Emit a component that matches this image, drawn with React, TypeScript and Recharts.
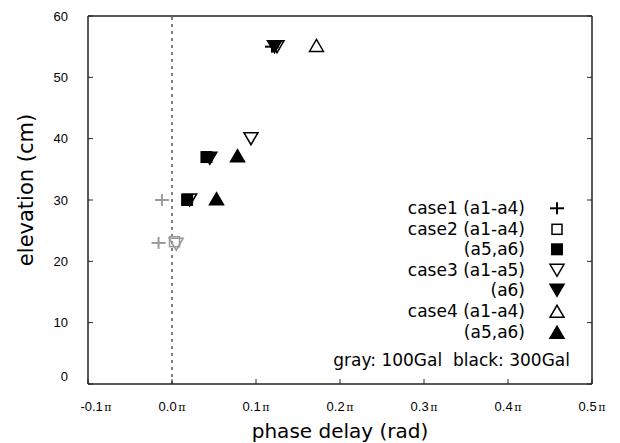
import React from "react";
import { ScatterChart, Scatter, XAxis, YAxis, ReferenceLine, Legend } from "recharts";

type Pt = { x: number; y: number; gal: number };

// x: phase delay in units of π, y: elevation (cm), gal: input level
const case1: Pt[] = [
  { x: -0.012, y: 30, gal: 100 },
  { x: -0.016, y: 23, gal: 100 },
  { x: 0.119, y: 55, gal: 300 },
];
const case2a: Pt[] = [
  { x: 0.003, y: 23.2, gal: 100 },
];
const case2b: Pt[] = [
  { x: 0.041, y: 37, gal: 300 },
  { x: 0.018, y: 30, gal: 300 },
];
const case3a: Pt[] = [
  { x: 0.125, y: 55, gal: 300 },
  { x: 0.094, y: 40, gal: 300 },
  { x: 0.021, y: 30, gal: 300 },
  { x: 0.005, y: 22.8, gal: 100 },
];
const case3b: Pt[] = [
  { x: 0.045, y: 36.8, gal: 300 },
  { x: 0.122, y: 55, gal: 300 },
];
const case4a: Pt[] = [
  { x: 0.172, y: 55.2, gal: 300 },
];
const case4b: Pt[] = [
  { x: 0.078, y: 37.2, gal: 300 },
  { x: 0.053, y: 30.2, gal: 300 },
];

const X_TICKS = [-0.1, 0, 0.1, 0.2, 0.3, 0.4, 0.5];
const Y_TICKS = [0, 10, 20, 30, 40, 50, 60];

const GAL_COLOR: Record<number, string> = { 100: "#9a9a9a", 300: "#000" };
const AXIS = "#222";
const FONT = "'Liberation Sans', Arial, sans-serif";
const TEXT_FONT = "'DejaVu Sans', sans-serif";

type Kind = "plus" | "square" | "squareFill" | "down" | "downFill" | "up" | "upFill";

const SERIES: { label: string; kind: Kind; data: Pt[] }[] = [
  { label: "case1 (a1-a4)", kind: "plus", data: case1 },
  { label: "case2 (a1-a4)", kind: "square", data: case2a },
  { label: "(a5,a6)", kind: "squareFill", data: case2b },
  { label: "case3 (a1-a5)", kind: "down", data: case3a },
  { label: "(a6)", kind: "downFill", data: case3b },
  { label: "case4 (a1-a4)", kind: "up", data: case4a },
  { label: "(a5,a6)", kind: "upFill", data: case4b },
];

function Mark({ kind, cx, cy, color }: { kind: Kind; cx: number; cy: number; color: string }) {
  const w = 7, h = 6;
  switch (kind) {
    case "plus":
      return (
        <g stroke={color} strokeWidth={2}>
          <line x1={cx - w} x2={cx + w} y1={cy} y2={cy} />
          <line x1={cx} x2={cx} y1={cy - h} y2={cy + h} />
        </g>
      );
    case "square":
      return <rect x={cx - 5} y={cy - 5} width={10} height={10} fill="none" stroke={color} strokeWidth={1.5} />;
    case "squareFill":
      return <rect x={cx - 6} y={cy - 6} width={12} height={12} fill={color} />;
    case "down":
    case "downFill":
      return (
        <polygon
          points={`${cx - w},${cy - h} ${cx + w},${cy - h} ${cx},${cy + h}`}
          fill={kind === "downFill" ? color : "none"}
          stroke={color}
          strokeWidth={1.5}
        />
      );
    default:
      return (
        <polygon
          points={`${cx - w},${cy + h} ${cx + w},${cy + h} ${cx},${cy - h}`}
          fill={kind === "upFill" ? color : "none"}
          stroke={color}
          strokeWidth={1.5}
        />
      );
  }
}

const X_MARGIN = 18;
const Y_MARGIN = 20;
const TICK = 5;

function BottomTick(props: any) {
  const { x, y, payload } = props;
  const axisY = y - X_MARGIN;
  const v = payload.value as number;
  return (
    <g>
      <line x1={x} x2={x} y1={axisY} y2={axisY - TICK} stroke={AXIS} />
      <text x={x + (v < 0 ? 8 : 0)} y={y} dy="0.71em" textAnchor="middle" fontSize={13} fontFamily={FONT} fill="#000">
        {v.toFixed(1)}
        <tspan dx={1.5} fontFamily="'DejaVu Serif', serif" fontSize={11}>π</tspan>
      </text>
    </g>
  );
}

function LeftTick(props: any) {
  const { x, y, payload } = props;
  const axisX = x + Y_MARGIN;
  return (
    <g>
      <line x1={axisX} x2={axisX + TICK} y1={y} y2={y} stroke={AXIS} />
      <text x={x} y={payload.value === 0 ? y - 8 : y} dy="0.35em" textAnchor="end" fontSize={13} fontFamily={FONT} fill="#000">
        {payload.value}
      </text>
    </g>
  );
}

function TopTick(props: any) {
  const { x, y } = props;
  return <line x1={x} x2={x} y1={y} y2={y + TICK} stroke={AXIS} />;
}

function RightTick(props: any) {
  const { x, y } = props;
  return <line x1={x} x2={x - TICK} y1={y} y2={y} stroke={AXIS} />;
}

const ROW = 20.6;

function LegendBox() {
  return (
    <div style={{ position: "relative", width: 620, height: 443, fontFamily: TEXT_FONT, fontSize: 17, color: "#000" }}>
      {SERIES.map((s, i) => (
        <div key={i} style={{ position: "absolute", left: 0, top: 198 + i * ROW, height: ROW, width: 620 }}>
          <div style={{ position: "absolute", right: 95, lineHeight: `${ROW}px`, whiteSpace: "nowrap" }}>{s.label}</div>
          <svg width={20} height={ROW} style={{ position: "absolute", left: 547, top: 0 }}>
            <Mark kind={s.kind} cx={10} cy={ROW / 2} color="#000" />
          </svg>
        </div>
      ))}
      <div style={{ position: "absolute", right: 50, top: 350, lineHeight: "20px", whiteSpace: "nowrap" }}>
        gray: 100Gal&nbsp; black: 300Gal
      </div>
    </div>
  );
}

export default function App() {
  return (
    <div style={{ position: "absolute", left: 0, top: 0, width: 620, height: 443, background: "#fff" }}>
      <ScatterChart width={620} height={443} margin={{ top: 15, right: 27, bottom: 19, left: 28 }}>
        <XAxis
          xAxisId="b"
          type="number"
          dataKey="x"
          domain={[-0.1, 0.5]}
          ticks={X_TICKS}
          height={40}
          tickSize={0}
          tickMargin={X_MARGIN}
          tick={<BottomTick />}
          axisLine={{ stroke: AXIS, strokeWidth: 1.5 }}
          allowDataOverflow
          label={{
            value: "phase delay (rad)",
            position: "bottom",
            offset: 0,
            style: { fontFamily: TEXT_FONT, fontSize: 20, fill: "#000" },
          }}
        />
        <XAxis
          xAxisId="t"
          orientation="top"
          type="number"
          domain={[-0.1, 0.5]}
          ticks={X_TICKS}
          height={1}
          tickSize={0}
          tickMargin={0}
          tick={<TopTick />}
          axisLine={{ stroke: AXIS, strokeWidth: 1.5 }}
          allowDataOverflow
        />
        <YAxis
          yAxisId="l"
          type="number"
          dataKey="y"
          domain={[0, 60]}
          ticks={Y_TICKS}
          width={60}
          tickSize={0}
          tickMargin={Y_MARGIN}
          tick={<LeftTick />}
          axisLine={{ stroke: AXIS, strokeWidth: 1.5 }}
          allowDataOverflow
          label={{
            value: "elevation (cm)",
            angle: -90,
            position: "insideLeft",
            offset: -2,
            dy: -10,
            style: { fontFamily: TEXT_FONT, fontSize: 21, fill: "#000", textAnchor: "middle" },
          }}
        />
        <YAxis
          yAxisId="r"
          orientation="right"
          type="number"
          domain={[0, 60]}
          ticks={Y_TICKS}
          width={1}
          tickSize={0}
          tickMargin={0}
          tick={<RightTick />}
          axisLine={{ stroke: AXIS, strokeWidth: 1.5 }}
          allowDataOverflow
        />
        <ReferenceLine xAxisId="b" yAxisId="l" x={0} stroke="#000" strokeDasharray="3 4" />
        {SERIES.map((s, i) => (
          <Scatter
            key={i}
            name={s.label}
            data={s.data}
            xAxisId="b"
            yAxisId="l"
            isAnimationActive={false}
            shape={(p: any) => <Mark kind={s.kind} cx={p.cx} cy={p.cy} color={GAL_COLOR[p.payload.gal]} />}
          />
        ))}
        <Legend
          content={<LegendBox />}
          layout="horizontal"
          verticalAlign="middle"
          align="center"
          wrapperStyle={{ position: "absolute", left: 0, top: 0, width: 620, height: 443, pointerEvents: "none" }}
        />
      </ScatterChart>
    </div>
  );
}
